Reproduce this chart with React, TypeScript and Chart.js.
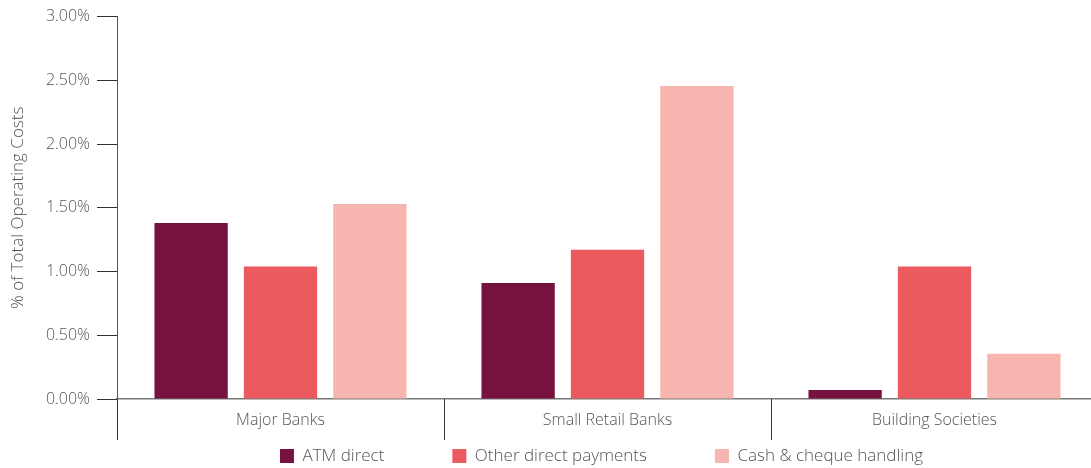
import React, { useEffect, useRef } from "react";
import { Chart, registerables } from "chart.js";

Chart.register(...registerables);

const categories = ["Major Banks", "Small Retail Banks", "Building Societies"];
const seriesNames = ["ATM direct", "Other direct payments", "Cash & cheque handling"];
const atmDirect = [1.38, 0.91, 0.07];
const otherDirect = [1.04, 1.17, 1.04];
const cashCheque = [1.53, 2.455, 0.355];
const seriesColors = ["#76123D", "#EB5A5F", "#F7B5AF"];
const yTicks = [0, 0.5, 1, 1.5, 2, 2.5, 3];
const yTitle = "% of Total Operating Costs";

const FONT = "'Open Sans', Lato, sans-serif";
const TXT = "#555555";
const LEGEND_GAP = 68;
const LEGEND_FONT = 17;

const dividerPlugin = {
  id: "categoryDividers",
  afterDraw(chart: any) {
    const x = chart.scales.x;
    const ctx = chart.ctx;
    const n = x.ticks.length;
    ctx.save();
    ctx.strokeStyle = "#333333";
    ctx.lineWidth = 1;
    for (let i = 0; i <= n; i++) {
      let px: number;
      if (i === 0) px = x.left;
      else if (i === n) px = x.right;
      else px = (x.getPixelForTick(i - 1) + x.getPixelForTick(i)) / 2;
      px = Math.round(px) + 0.5;
      ctx.beginPath();
      ctx.moveTo(px, x.top);
      ctx.lineTo(px, x.top + 41);
      ctx.stroke();
    }
    ctx.restore();
  },
};

// keep the legend's reserved height compact while using wide item spacing
const legendPlacePlugin = {
  id: "legendPlace",
  beforeLayout(chart: any) {
    const lg = chart.legend;
    if (lg && !lg.__patched) {
      const proto = Object.getPrototypeOf(lg);
      lg.fit = function () {
        proto.fit.call(this);
        this.height = 28;
      };
      lg.__patched = true;
    }
  },
  beforeDraw(chart: any) {
    const lg = chart.legend;
    if (!lg) return;
    const top = 456 - LEGEND_GAP - LEGEND_FONT / 2;
    lg.top = top;
    lg.bottom = chart.height;
    lg.height = lg.bottom - lg.top;
    lg.left -= 6;
    lg.right -= 6;
  },
};

export default function App() {
  const ref = useRef<HTMLCanvasElement | null>(null);
  useEffect(() => {
    if (!ref.current) return;
    const values = [atmDirect, otherDirect, cashCheque];
    const chart = new Chart(ref.current, {
      type: "bar",
      data: {
        labels: categories,
        datasets: seriesNames.map((n, i) => ({
          label: n,
          data: values[i],
          backgroundColor: seriesColors[i],
          borderWidth: 0,
          barPercentage: 0.82,
          categoryPercentage: 0.82,
        })),
      },
      plugins: [dividerPlugin, legendPlacePlugin],
      options: {
        animation: false,
        responsive: false,
        maintainAspectRatio: false,
        layout: { padding: { top: 13, right: 2, left: 0, bottom: 0 } },
        plugins: {
          tooltip: { enabled: false },
          legend: {
            position: "bottom",
            fullSize: false,
            labels: {
              boxWidth: 14,
              boxHeight: 14,
              padding: LEGEND_GAP,
              color: TXT,
              font: { family: FONT, size: LEGEND_FONT, weight: "300" },
            },
          },
        },
        scales: {
          x: {
            offset: true,
            afterFit: (s: any) => {
              s.height = 41;
            },
            border: { display: true, color: "#777777", width: 1.5 },
            grid: { display: false },
            ticks: {
              padding: 4,
              color: TXT,
              font: { family: FONT, size: 16, weight: "300" },
            },
          },
          y: {
            min: 0,
            max: 3,
            afterFit: (s: any) => {
              s.width = 117;
            },
            afterBuildTicks: (s: any) => {
              s.ticks = yTicks.map((v) => ({ value: v }));
            },
            border: { display: true, color: "#555555", width: 1 },
            grid: {
              drawOnChartArea: false,
              drawTicks: true,
              tickLength: 20,
              color: "#333333",
            },
            ticks: {
              padding: 7,
              color: TXT,
              font: { family: FONT, size: 16, weight: "300" },
              callback: (v: any) => Number(v).toFixed(2) + "%",
            },
            title: {
              display: true,
              text: yTitle,
              color: TXT,
              font: { family: FONT, size: 17, weight: "300" },
              padding: { top: 8, bottom: 0 },
            },
          },
        },
      },
    });
    return () => chart.destroy();
  }, []);
  return (
    <div
      style={{
        position: "fixed",
        left: 0,
        top: 0,
        width: 1091,
        height: 468,
        overflow: "hidden",
        background: "#fff",
      }}
    >
      <canvas ref={ref} width={1100} height={468} style={{ display: "block" }} />
    </div>
  );
}
